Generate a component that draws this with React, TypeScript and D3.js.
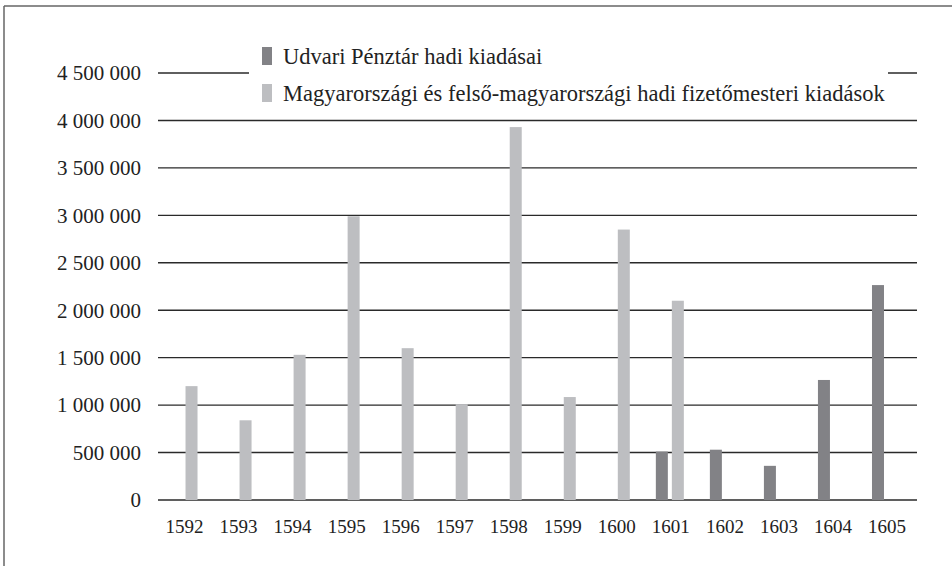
import React from 'react';
import * as d3 from 'd3';

const years = ['1592','1593','1594','1595','1596','1597','1598','1599','1600','1601','1602','1603','1604','1605'];
// Udvari Pénztár hadi kiadásai (only 1601 onwards)
const udvari = [null, null, null, null, null, null, null, null, null, 510000, 530000, 360000, 1265000, 2265000];
// Magyarországi és felső-magyarországi hadi fizetőmesteri kiadások
const magyar = [1200000, 840000, 1530000, 2990000, 1600000, 1010000, 3930000, 1085000, 2850000, 2100000, null, null, null, null];
const yTicks = [0, 500000, 1000000, 1500000, 2000000, 2500000, 3000000, 3500000, 4000000, 4500000];
const seriesNames = ['Udvari Pénztár hadi kiadásai', 'Magyarországi és felső-magyarországi hadi fizetőmesteri kiadások'];
const seriesColors = ['#828286', '#bdbec1'];

const W = 952;
const H = 566;

const fmt = (v:number) => v === 0 ? '0' : d3.format(',')(v).replace(/,/g, ' ');

const txt = {fontFamily: "'Liberation Serif', 'Times New Roman', serif"};

const App:React.FC = () => {
  const x = d3.scaleBand<string>().domain(years).range([156.5, 913]);
  const sub = d3.scaleBand<string>().domain(['u','m']).paddingInner(0.25).paddingOuter(0);
  const y = d3.scaleLinear().domain([0, 4500000]).range([500, 73]);

  return (
    <svg width={W} height={H} style={{position:'absolute', left:0, top:0, background:'#fff'}}>
      {/* frame */}
      <line x1={4} y1={6} x2={W} y2={6} stroke="#666" strokeWidth={1.5}/>
      <line x1={4} y1={6} x2={4} y2={H} stroke="#666" strokeWidth={1.5}/>

      {/* gridlines + y labels */}
      {yTicks.map(t => (
        <g key={t}>
          <line x1={158} x2={917} y1={y(t)} y2={y(t)} stroke="#2a2a2a" strokeWidth={1.4}/>
          <text x={141} y={y(t)} dy="0.35em" textAnchor="end" fontSize={21} fill="#222" style={txt}>{fmt(t)}</text>
        </g>
      ))}

      {/* bars */}
      {years.map((yr, i) => {
        const c = (x(yr) as number) + x.bandwidth() / 2;
        sub.range([c - 14, c + 14]);
        const ux = sub('u') as number;
        const mx = sub('m') as number;
        const bw = sub.bandwidth();
        const u = udvari[i];
        const m = magyar[i];
        return (
          <g key={yr}>
            {u != null && <rect x={ux} y={y(u)} width={bw} height={y(0) - y(u)} fill={seriesColors[0]}/>}
            {m != null && <rect x={mx} y={y(m)} width={bw} height={y(0) - y(m)} fill={seriesColors[1]}/>}
            <text x={c + 1} y={533} textAnchor="middle" fontSize={19} fill="#222" style={txt}>{yr}</text>
          </g>
        );
      })}

      {/* legend */}
      <rect x={249} y={40} width={639} height={70} fill="#fff"/>
      {seriesNames.map((n, i) => (
        <g key={n} transform={`translate(262, ${47 + i * 37})`}>
          <rect x={0} y={0} width={10} height={18} fill={seriesColors[i]}/>
          <text x={21} y={9} dy="0.35em" fontSize={22.5} fill="#222" style={txt}>{n}</text>
        </g>
      ))}
    </svg>
  );
};

export default App;
